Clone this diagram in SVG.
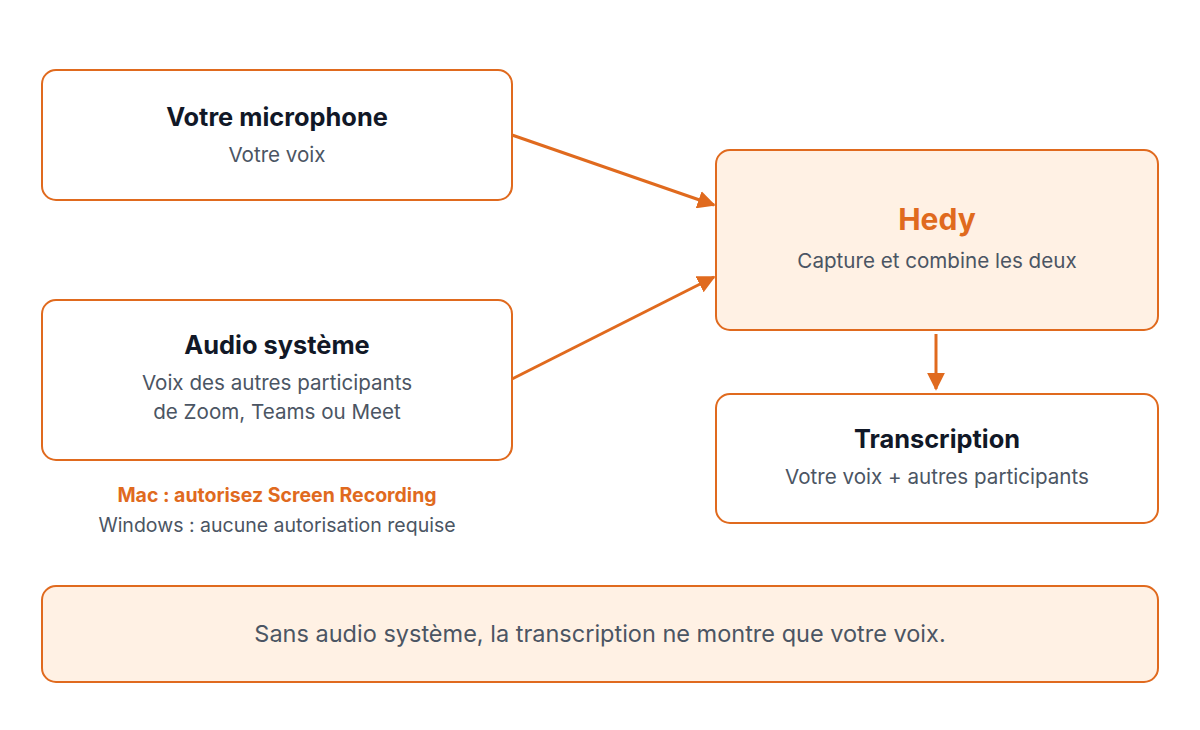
<svg xmlns="http://www.w3.org/2000/svg" width="1200" height="730" viewBox="0 0 1200 730">
<style>
.box{fill:#fff;stroke:#E06A1E;stroke-width:2}
.hl{fill:#FFF1E4;stroke:#E06A1E;stroke-width:2}
.t{font-family:Inter,"Liberation Sans",sans-serif;font-weight:700;font-size:25.4px;fill:#111827;text-anchor:middle}
.s{font-family:Inter,"Liberation Sans",sans-serif;font-size:20.6px;fill:#4B5563;text-anchor:middle}
.c{stroke:#E06A1E;stroke-width:3;fill:none}
</style>
<defs><marker id="a" viewBox="0 0 10 10" refX="9" refY="5" markerWidth="6" markerHeight="6" orient="auto" markerUnits="strokeWidth"><path d="M0,0L10,5L0,10z" fill="#E06A1E"/></marker></defs>
<rect width="1200" height="730" fill="#fff"/>
<g id="mic"><rect class="box" x="42" y="70" width="470" height="130" rx="14"/><text class="t" x="277" y="126">Votre microphone</text><text class="s" x="277" y="162">Votre voix</text></g>
<g id="audio"><rect class="box" x="42" y="300" width="470" height="160" rx="14"/><text class="t" x="277" y="354">Audio système</text><text class="s" x="277" y="390">Voix des autres participants</text><text class="s" x="277" y="419">de Zoom, Teams ou Meet</text></g>
<g id="note"><text class="s" x="277" y="502" style="fill:#E06A1E;font-weight:700;font-size:19.5px">Mac : autorisez Screen Recording</text><text class="s" x="277" y="532" style="font-size:19.5px">Windows : aucune autorisation requise</text></g>
<g id="hedy"><rect class="hl" x="716" y="150" width="442" height="180" rx="14"/><text class="t" x="937" y="230" style="fill:#E06A1E;font-size:30px">Hedy</text><text class="s" x="937" y="268">Capture et combine les deux</text></g>
<g id="trans"><rect class="box" x="716" y="394" width="442" height="129" rx="14"/><text class="t" x="937" y="448">Transcription</text><text class="s" x="937" y="484">Votre voix + autres participants</text></g>
<g id="footer"><rect class="hl" x="42" y="586" width="1116" height="96" rx="14"/><text class="s" x="600" y="642" style="font-size:23.5px">Sans audio système, la transcription ne montre que votre voix.</text></g>
<g id="connectors">
<line class="c" x1="512" y1="135" x2="714" y2="205" marker-end="url(#a)"/>
<line class="c" x1="512" y1="379" x2="714" y2="277" marker-end="url(#a)"/>
<line class="c" x1="936" y1="334" x2="936" y2="389" marker-end="url(#a)"/>
</g>
</svg>
